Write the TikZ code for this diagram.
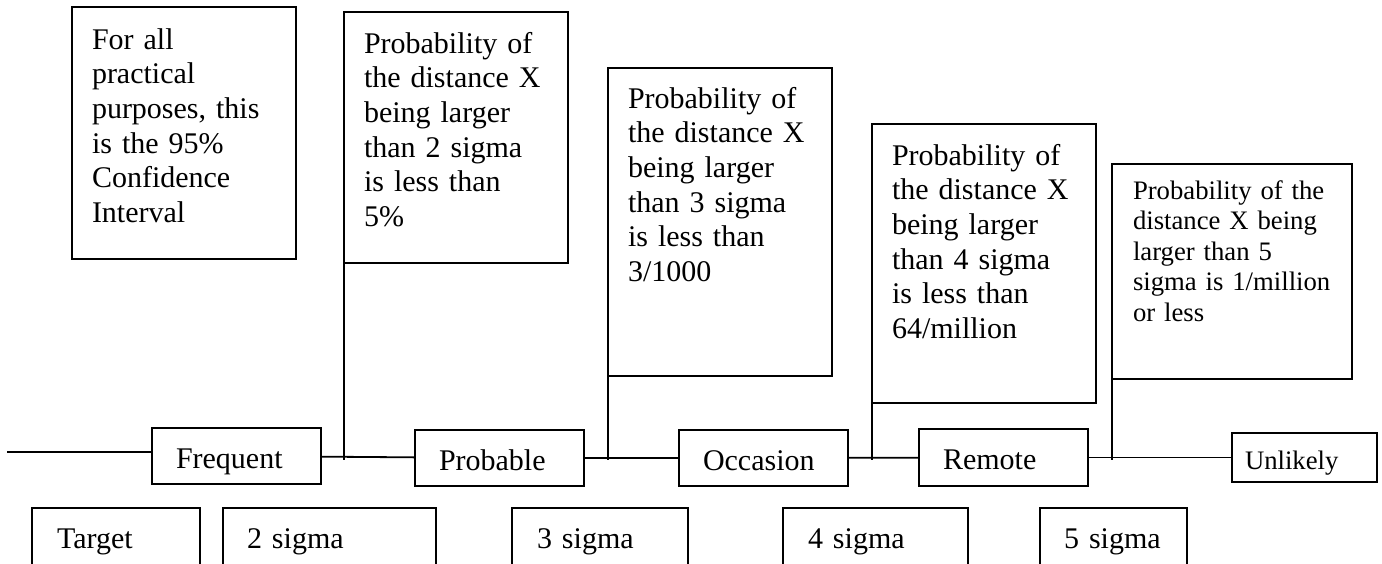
\documentclass[tikz,border=0pt]{standalone}
\usepackage{fontspec}
\setmainfont{Liberation Serif}
\usepackage{tikz}
\usetikzlibrary{positioning}

\newcommand{\bigtext}{\fontsize{15pt}{17.35pt}\selectfont}
\newcommand{\smalltext}{\fontsize{13.35pt}{15.25pt}\selectfont}

\begin{document}
\begin{tikzpicture}[x=0.5pt, y=-0.5pt,
  note/.style={draw, line width=1.1pt, anchor=north west, outer sep=0pt,
               align=left, inner xsep=10pt, inner ysep=0pt, font=\bigtext},
  level/.style={note, inner xsep=12pt, text height=20pt, text width=60.5pt, text depth=8pt},
  sig/.style={note, text height=20pt, text depth=30pt},
  wire/.style={line width=0.9pt},
]
  \useasboundingbox (0,0) rectangle (1382,563);
  \clip (0,0) rectangle (1382,563);

  \node[note, text width=92pt, text height=21pt, text depth=105pt] (conf) at (72,7)
    {For all\\practical\\purposes, this\\is the 95\%\\Confidence\\Interval};
  \node[note, text width=92pt, text height=20.5pt, text depth=105pt] (p2) at (344,12)
    {Probability of\\the distance X\\being larger\\than 2 sigma\\is less than\\5\%};
  \node[note, text width=92pt, text height=20pt, text depth=134pt] (p3) at (608,68)
    {Probability of\\the distance X\\being larger\\than 3 sigma\\is less than\\3/1000};
  \node[note, text width=92pt, text height=20.5pt, text depth=119pt] (p4) at (872,124)
    {Probability of\\the distance X\\being larger\\than 4 sigma\\is less than\\64/million};
  \node[note, font=\smalltext, inner xsep=10.5pt, text width=99pt, text height=17.5pt,
        text depth=90pt] (p5) at (1112,164)
    {Probability of the\\distance X being\\larger than 5\\sigma is 1/million\\or less};

  \node[level] (freq) at (152,428) {Frequent};
  \node[level] (prob) at (415,430) {Probable};
  \node[level] (occ) at (679,430) {Occasion};
  \node[level, text depth=8.5pt] (rem) at (919,429) {Remote};
  \node[level, font=\smalltext, inner xsep=6.5pt, text width=59.5pt, text height=18pt,
        text depth=6.5pt] (unl) at (1232,433) {Unlikely};

  \node[sig, inner xsep=12.5pt, text width=59pt] (tgt) at (32,508) {Target};
  \node[sig, inner xsep=12pt, text width=82.5pt] (s2) at (223,508) {2 sigma};
  \node[sig, inner xsep=12.5pt, text width=63pt] (s3) at (512,508) {3 sigma};
  \node[sig, inner xsep=12.5pt, text width=67.5pt] (s4) at (783,508) {4 sigma};
  \node[sig, inner xsep=12pt, text width=49.5pt] (s5) at (1040,508) {5 sigma};

  \coordinate (start) at (7,452);
  \coordinate (tick) at (0,460);

  \draw[wire] (start) -- (start -| freq.west);
  \draw[wire] (freq) -- (prob);
  \draw[wire] (prob) -- (occ);
  \draw[wire] (occ) -- (rem);
  \draw[wire] (rem) -- (unl);

  \draw[wire] (p2.south west) -- (p2.south west |- tick);
  \draw[wire] (p3.south west) -- (p3.south west |- tick);
  \draw[wire] (p4.south west) -- (p4.south west |- tick);
  \draw[wire] (p5.south west) -- (p5.south west |- tick);
\end{tikzpicture}
\end{document}
